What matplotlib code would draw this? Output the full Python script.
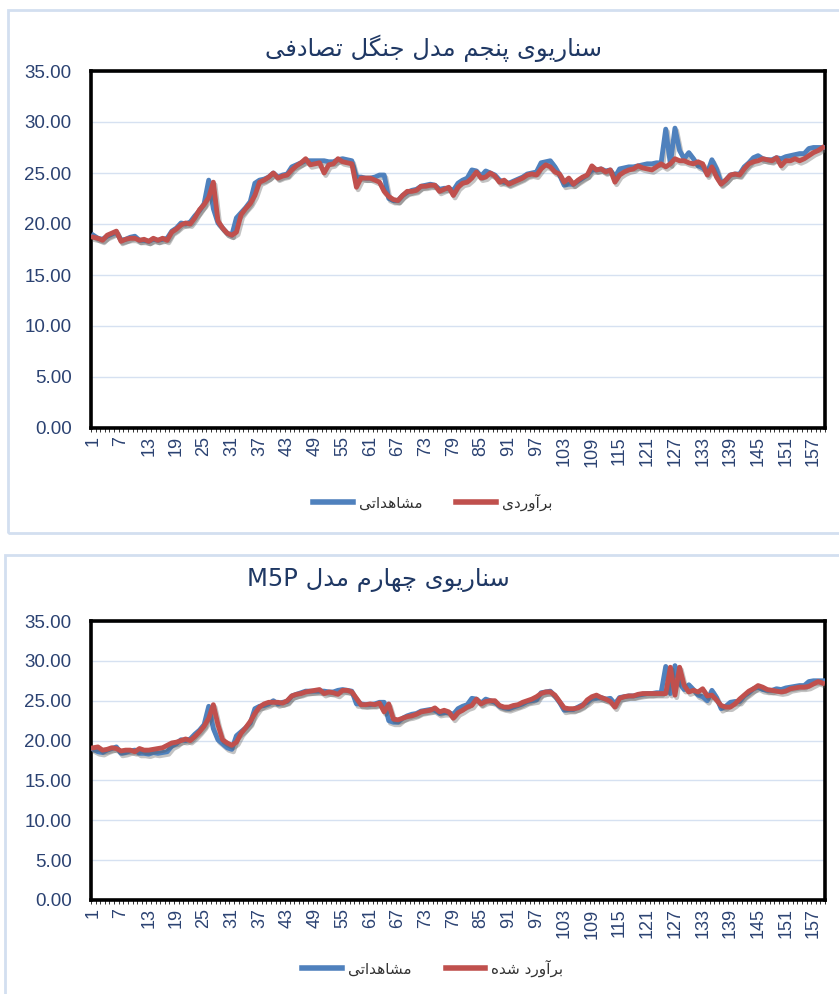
import numpy as np
import matplotlib
matplotlib.use("Agg")
import matplotlib.pyplot as plt
from matplotlib import font_manager
from matplotlib.patches import Rectangle
import matplotlib.patheffects as pe

# ---------------- data ----------------
observed = [
    18.9, 18.6, 18.5, 18.8, 19.0, 19.2, 18.4, 18.5, 18.7, 18.8,
    18.4, 18.4, 18.3, 18.5, 18.4, 18.5, 18.6, 19.3, 19.6, 20.1,
    20.0, 20.2, 20.8, 21.3, 22.0, 24.3, 21.5, 20.1, 19.6, 19.1,
    18.9, 20.6, 21.1, 21.6, 22.2, 24.0, 24.3, 24.4, 24.6, 25.0,
    24.6, 24.8, 24.9, 25.6, 25.8, 26.0, 26.2, 26.2, 26.2, 26.2,
    26.2, 26.1, 26.1, 26.3, 26.4, 26.3, 26.2, 24.6, 24.6, 24.5,
    24.5, 24.6, 24.8, 24.8, 22.5, 22.3, 22.3, 22.8, 23.1, 23.3,
    23.4, 23.7, 23.8, 23.9, 23.8, 23.4, 23.5, 23.5, 23.3, 24.0,
    24.3, 24.5, 25.3, 25.2, 24.7, 25.2, 25.0, 24.8, 24.3, 24.1,
    24.0, 24.2, 24.4, 24.6, 24.9, 25.0, 25.1, 26.0, 26.1, 26.2,
    25.6, 24.8, 23.8, 23.9, 23.9, 24.2, 24.5, 24.8, 25.3, 25.3,
    25.4, 25.2, 25.3, 24.6, 25.4, 25.5, 25.6, 25.6, 25.7, 25.8,
    25.9, 25.9, 26.0, 26.0, 29.3, 25.9, 29.4, 27.2, 26.4, 27.0,
    26.4, 25.7, 25.5, 25.0, 26.3, 25.4, 24.0, 24.3, 24.8, 24.9,
    24.9, 25.6, 26.0, 26.5, 26.7, 26.4, 26.3, 26.3, 26.5, 26.4,
    26.6, 26.7, 26.8, 26.9, 26.9, 27.4, 27.5, 27.5, 27.5,
]

est_rf = [
    18.7, 18.6, 18.4, 18.9, 19.1, 19.3, 18.3, 18.5, 18.6, 18.6,
    18.4, 18.5, 18.3, 18.6, 18.4, 18.6, 18.4, 19.2, 19.5, 19.9,
    20.1, 20.0, 20.6, 21.4, 21.9, 22.6, 24.1, 20.3, 19.6, 19.1,
    18.9, 19.2, 20.9, 21.5, 22.0, 22.8, 24.1, 24.3, 24.6, 25.0,
    24.5, 24.7, 24.8, 25.3, 25.7, 26.0, 26.4, 25.8, 25.9, 26.0,
    25.0, 25.8, 25.9, 26.4, 26.1, 26.0, 25.9, 23.6, 24.5, 24.5,
    24.5, 24.3, 24.1, 23.2, 22.7, 22.4, 22.3, 22.8, 23.2, 23.2,
    23.3, 23.7, 23.7, 23.8, 23.8, 23.2, 23.4, 23.6, 22.8, 23.6,
    24.0, 24.1, 24.5, 25.1, 24.5, 24.6, 25.0, 24.7, 24.1, 24.3,
    23.9, 24.1, 24.3, 24.5, 24.8, 24.9, 24.8, 25.4, 25.8, 25.6,
    25.1, 24.9, 24.1, 24.5, 23.9, 24.3, 24.6, 24.8, 25.7, 25.3,
    25.4, 25.1, 25.3, 24.1, 24.8, 25.1, 25.3, 25.4, 25.7, 25.5,
    25.4, 25.3, 25.6, 25.9, 25.6, 25.9, 26.4, 26.2, 26.2, 26.0,
    25.9, 26.1, 25.9, 24.8, 25.6, 24.6, 23.9, 24.3, 24.8, 24.9,
    24.8, 25.4, 25.9, 26.1, 26.2, 26.4, 26.3, 26.2, 26.5, 25.7,
    26.2, 26.2, 26.4, 26.2, 26.4, 26.7, 27.0, 27.2, 27.5,
]

est_m5p = [
    19.1, 19.2, 18.8, 18.9, 19.1, 19.0, 18.7, 18.8, 18.8, 18.6,
    19.0, 18.8, 18.8, 18.9, 19.0, 19.1, 19.4, 19.7, 19.8, 20.0,
    20.2, 20.0, 20.5, 21.1, 21.8, 22.8, 24.5, 22.0, 20.1, 19.7,
    19.4, 19.8, 20.9, 21.6, 22.4, 23.4, 24.2, 24.6, 24.8, 24.8,
    24.8, 24.7, 25.0, 25.6, 25.8, 25.9, 26.1, 26.2, 26.3, 26.4,
    25.9, 26.1, 26.0, 25.8, 26.3, 26.3, 26.1, 25.3, 24.5, 24.5,
    24.6, 24.5, 24.7, 23.6, 24.6, 22.7, 22.6, 22.8, 23.0, 23.1,
    23.3, 23.6, 23.7, 23.8, 24.1, 23.6, 23.8, 23.6, 22.8, 23.5,
    23.8, 24.2, 24.4, 25.2, 24.6, 24.9, 25.0, 25.0, 24.4, 24.2,
    24.2, 24.4, 24.5, 24.8, 25.0, 25.2, 25.5, 25.9, 26.1, 26.1,
    25.7, 24.9, 24.1, 24.0, 24.0, 24.1, 24.4, 25.1, 25.5, 25.7,
    25.4, 25.2, 24.9, 24.2, 25.3, 25.5, 25.6, 25.6, 25.8, 25.9,
    25.9, 25.9, 25.9, 25.9, 25.9, 29.2, 25.7, 29.2, 26.9, 26.1,
    26.3, 26.1, 26.5, 25.6, 25.7, 25.1, 24.4, 24.2, 24.2, 24.6,
    25.2, 25.7, 26.2, 26.5, 26.9, 26.7, 26.4, 26.3, 26.2, 26.1,
    26.2, 26.5, 26.6, 26.7, 26.7, 26.8, 27.1, 27.4, 27.2,
]

n_points = len(observed)
x_index = list(range(1, n_points + 1))
x_tick_labels = list(range(1, 158, 6))
y_ticks = [0, 5, 10, 15, 20, 25, 30, 35]

title_1 = "سناریوی پنجم مدل جنگل تصادفی"
title_2_fa = "سناریوی چهارم مدل"
title_2_latin = "M5P"
label_observed = "مشاهداتی"
label_est_1 = "برآوردی"
label_est_2 = "برآورد شده"

# ---------------- simple Persian shaping (presentation forms) ----------------
FORMS = {
    'ا': ('\uFE8D', '\uFE8E', None, None),
    'آ': ('\uFE81', '\uFE82', None, None),
    'ب': ('\uFE8F', '\uFE90', '\uFE91', '\uFE92'),
    'پ': ('\uFB56', '\uFB57', '\uFB58', '\uFB59'),
    'ت': ('\uFE95', '\uFE96', '\uFE97', '\uFE98'),
    'ج': ('\uFE9D', '\uFE9E', '\uFE9F', '\uFEA0'),
    'چ': ('\uFB7A', '\uFB7B', '\uFB7C', '\uFB7D'),
    'د': ('\uFEA9', '\uFEAA', None, None),
    'ر': ('\uFEAD', '\uFEAE', None, None),
    'س': ('\uFEB1', '\uFEB2', '\uFEB3', '\uFEB4'),
    'ش': ('\uFEB5', '\uFEB6', '\uFEB7', '\uFEB8'),
    'ص': ('\uFEB9', '\uFEBA', '\uFEBB', '\uFEBC'),
    'ف': ('\uFED1', '\uFED2', '\uFED3', '\uFED4'),
    'گ': ('\uFB92', '\uFB93', '\uFB94', '\uFB95'),
    'ل': ('\uFEDD', '\uFEDE', '\uFEDF', '\uFEE0'),
    'م': ('\uFEE1', '\uFEE2', '\uFEE3', '\uFEE4'),
    'ن': ('\uFEE5', '\uFEE6', '\uFEE7', '\uFEE8'),
    'ه': ('\uFEE9', '\uFEEA', '\uFEEB', '\uFEEC'),
    'و': ('\uFEED', '\uFEEE', None, None),
    'ی': ('\uFBFC', '\uFBFD', '\uFBFE', '\uFBFF'),
}


def shape(text):
    out = []
    for k, c in enumerate(text):
        if c not in FORMS:
            out.append(c)
            continue
        prev = text[k - 1] if k > 0 else None
        nxt = text[k + 1] if k + 1 < len(text) else None
        jp = prev in FORMS and FORMS[prev][2] is not None
        jn = nxt in FORMS and FORMS[c][2] is not None
        iso, fin, ini, med = FORMS[c]
        if jp and jn:
            out.append(med)
        elif jp:
            out.append(fin)
        elif jn:
            out.append(ini)
        else:
            out.append(iso)
    return "".join(out)[::-1]


# ---------------- fonts / colors ----------------
names = {f.name for f in font_manager.fontManager.ttflist}
num_font = "Liberation Sans Narrow" if "Liberation Sans Narrow" in names else "Liberation Sans"
ar_font = ["DejaVu Sans"]

BLUE = "#4F81BD"
RED = "#C0504D"
GRID = "#D6E1F1"
TXT = "#2B4272"
TITLE = "#1F3864"
FRAME = "#D3DFF0"

W, H = 839, 994
fig = plt.figure(figsize=(W / 100, H / 100), dpi=100)
fig.patch.set_facecolor("white")

# outer chart frames
fig.add_artist(Rectangle((8 / W, 1 - 533 / H), 1.0, (533 - 10) / H,
                         transform=fig.transFigure, fill=False,
                         edgecolor=FRAME, linewidth=2.0))
fig.add_artist(Rectangle((5 / W, -0.05), 1.0, 0.05 + (994 - 555) / H,
                         transform=fig.transFigure, fill=False,
                         edgecolor=FRAME, linewidth=2.0))


def px_axes(left, top, right, bottom):
    return fig.add_axes([left / W, 1 - bottom / H, (right - left) / W, (bottom - top) / H])


shadow = [pe.SimpleLineShadow(offset=(1.2, -1.8), shadow_color="#555555", alpha=0.35),
          pe.Normal()]


def draw_panel(ax, est, est_label, title_text, title_xy, legend_y):
    ax.plot(x_index, observed, color=BLUE, lw=3.5, solid_joinstyle="round",
            label=shape(label_observed), path_effects=shadow, zorder=3)
    ax.plot(x_index, est, color=RED, lw=3.5, solid_joinstyle="round",
            label=shape(est_label), path_effects=shadow, zorder=4)
    ax.set_xlim(0.5, n_points + 0.5)
    ax.set_ylim(0, 35)
    ax.set_yticks(y_ticks)
    ax.set_yticklabels([f"{v:.2f}" for v in y_ticks], fontsize=13.5,
                       color=TXT, family=num_font)
    ax.set_xticks(x_tick_labels)
    ax.set_xticklabels([str(v) for v in x_tick_labels], rotation=90,
                       fontsize=13, color=TXT, family=num_font)
    ax.set_xticks(np.arange(0.5, n_points + 1, 1), minor=True)
    ax.tick_params(axis="x", which="major", length=0, pad=6)
    ax.tick_params(axis="x", which="minor", length=3, width=0.7, color="#333333")
    ax.tick_params(axis="y", length=0, pad=14)
    ax.grid(axis="y", color=GRID, linewidth=1.0, zorder=0)
    ax.set_axisbelow(True)
    for s in ax.spines.values():
        s.set_color("black")
        s.set_linewidth(2.6)
    fig.text(title_xy[0] / W, 1 - title_xy[1] / H, title_text,
             ha="center", va="center", fontsize=17.5, color=TITLE, family=ar_font)
    leg = ax.legend(loc="center", bbox_to_anchor=(433 / W, 1 - legend_y / H),
                    bbox_transform=fig.transFigure, ncol=2, frameon=False,
                    handlelength=2.6, columnspacing=2.2, handletextpad=0.4,
                    prop={"family": ar_font, "size": 11})
    for t in leg.get_texts():
        t.set_color("#333333")
    for h in leg.legend_handles:
        h.set_linewidth(4)
        h.set_path_effects([])


ax1 = px_axes(91, 71, 825, 428)
draw_panel(ax1, est_rf, label_est_1, shape(title_1), (433, 48), 502)

ax2 = px_axes(91, 621, 825, 900)
draw_panel(ax2, est_m5p, label_est_2, title_2_latin + " " + shape(title_2_fa), (378, 580), 968)

fig.savefig("out.png", dpi=100, facecolor="white")
